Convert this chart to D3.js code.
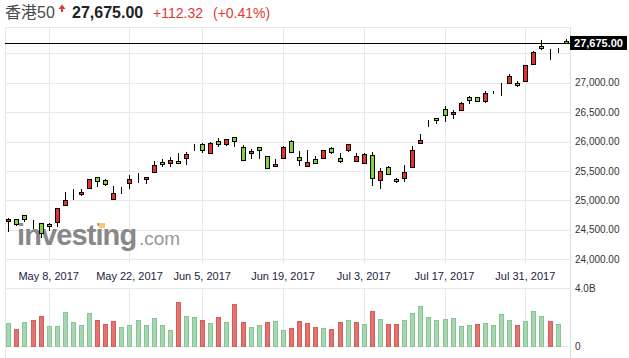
<!DOCTYPE html>
<html><head><meta charset="utf-8">
<script src="https://cdn.jsdelivr.net/npm/d3@7"></script>
<style>body{margin:0;background:#fff}svg{display:block}</style>
</head><body>
<svg id="c" width="629" height="358"></svg>
<script>
const dates = ["2017-04-27","2017-04-28","2017-05-02","2017-05-04","2017-05-05","2017-05-08","2017-05-09","2017-05-10","2017-05-11","2017-05-12","2017-05-15","2017-05-16","2017-05-17","2017-05-18","2017-05-19","2017-05-22","2017-05-23","2017-05-24","2017-05-25","2017-05-26","2017-05-29","2017-05-31","2017-06-01","2017-06-02","2017-06-05","2017-06-06","2017-06-07","2017-06-08","2017-06-09","2017-06-12","2017-06-13","2017-06-14","2017-06-15","2017-06-16","2017-06-19","2017-06-20","2017-06-21","2017-06-22","2017-06-23","2017-06-26","2017-06-27","2017-06-28","2017-06-29","2017-06-30","2017-07-03","2017-07-04","2017-07-05","2017-07-06","2017-07-07","2017-07-10","2017-07-11","2017-07-12","2017-07-13","2017-07-14","2017-07-17","2017-07-18","2017-07-19","2017-07-20","2017-07-21","2017-07-24","2017-07-25","2017-07-26","2017-07-27","2017-07-28","2017-07-31","2017-08-01","2017-08-02","2017-08-03","2017-08-04","2017-08-07"];
const open  = [24645,24679,24747,24662,24611,24594,24638,24917,25097,25109,25206,25393,25342,25019,25160,25291,25386,25359,25488,25648,25641,25675,25716,25902,25953,25801,26004,25953,26072,25902,25801,25902,25750,25580,25716,26004,25733,25580,25699,25716,25885,25716,25851,25665,25631,25767,25342,25563,25359,25376,25573,25970,26321,26395,26548,26463,26536,26752,26752,26694,26837,26932,26990,27000,27024,27313,27629,27522,27550,27703];
const high  = [24701,24684,24761,24665,24615,24621,24876,25148,25189,25189,25372,25405,25359,25245,25233,25432,25461,25406,25665,25699,25733,25806,25818,25959,25981,25998,26055,26049,26078,25942,25869,25907,25755,25699,25919,26021,25835,25852,25750,25856,25902,25801,25957,25801,25801,25818,25546,25580,25376,25597,25924,26128,26366,26400,26604,26536,26677,26769,26757,26854,26864,27000,27153,27029,27300,27539,27725,27578,27584,27737];
const low   = [24458,24565,24628,24514,24356,24475,24543,24905,25007,25075,25194,25223,25240,25012,25109,25199,25301,25284,25483,25573,25573,25638,25607,25845,25801,25798,25902,25925,25913,25678,25709,25709,25543,25563,25712,25813,25580,25576,25636,25712,25784,25631,25817,25661,25627,25250,25199,25440,25291,25308,25568,25965,26252,26293,26337,26378,26530,26638,26680,26660,26803,26779,26986,26922,27020,27310,27556,27391,27500,27670];
const close = [24679,24594,24679,24662,24441,24560,24866,25002,25097,25143,25359,25325,25274,25121,25160,25369,25386,25403,25610,25620,25682,25641,25784,25902,25851,25970,25953,26038,26004,25682,25835,25851,25546,25614,25902,25817,25682,25648,25640,25852,25817,25665,25953,25750,25784,25376,25495,25444,25325,25478,25857,26027,26321,26361,26446,26502,26655,26706,26684,26820,26837,26932,27114,26956,27296,27522,27584,27522,27550,27675];
const volumeB = [1.59,1.17,1.66,1.79,2.07,1.38,1.38,2.34,1.66,1.45,2.28,1.79,1.52,1.72,1.31,1.45,1.79,1.45,1.93,1.45,1.10,3.03,2.07,2.00,1.79,1.59,2.00,1.66,2.90,1.66,1.31,1.45,1.66,1.72,1.10,1.24,1.72,1.59,1.31,1.24,1.17,1.66,1.79,1.66,1.52,2.41,1.86,1.52,1.52,1.79,2.28,2.76,2.00,1.79,1.86,1.93,1.38,1.45,1.52,1.59,1.45,2.21,1.79,1.45,1.72,2.41,2.07,1.72,1.52,null];
const xTickDates = ["2017-05-08","2017-05-22","2017-06-05","2017-06-19","2017-07-03","2017-07-17","2017-07-31"];
const xTickLabels = ["May 8, 2017","May 22, 2017","Jun 5, 2017","Jun 19, 2017","Jul 3, 2017","Jul 17, 2017","Jul 31, 2017"];
const yGridValues = [24000,24500,25000,25500,26000,26500,27000,27500];
const yTickValues = [24000,24500,25000,25500,26000,26500,27000];
const volTickValues = [0,4];
const volTickLabels = ["0","4.0B"];
const lastPrice = 27675.00, change = 112.32, changePct = 0.41;
const title = "香港50";

const svg = d3.select("#c");
const L = 5, R = 570, PT = 27, PB = 263, VT = 288, VB = 346.3;
const x = d3.scalePoint().domain(dates).range([8.3, 565.7]);
const y = d3.scaleLinear().domain([24000, 27000]).range([259.3, 82.7]);
const yv = d3.scaleLinear().domain([0, 4]).range([VB, 288.3]);
const fmt = d3.format(",.2f");
const snap = v => Math.round(v) + 0.5;
const gridC = "#e6e8ee";

// header
const hdr = svg.append("g").attr("font-family","Liberation Sans, Arial, sans-serif");
hdr.append("text").attr("x",5).attr("y",18).attr("font-size",16).attr("fill","#4a4a4a")
  .attr("font-family","Liberation Sans, 'Noto Sans CJK SC', sans-serif").text(title);
hdr.append("path").attr("d","M62,4.5 L58.5,9 L61,9 L61,12 L63,12 L63,9 L65.5,9 Z").attr("fill","#e03a35");
hdr.append("text").attr("x",72).attr("y",18).attr("font-size",16).attr("font-weight","bold").attr("fill","#222").text(fmt(lastPrice));
hdr.append("text").attr("x",153).attr("y",18).attr("font-size",14).attr("fill","#e03a35").text("+" + fmt(change));
hdr.append("text").attr("x",213).attr("y",18).attr("font-size",14).attr("fill","#e03a35").text("(+" + changePct.toFixed(2) + "%)");

// grid
const g = svg.append("g");
g.selectAll("line.hg").data(yGridValues).join("line")
  .attr("x1",L).attr("x2",R).attr("y1",d=>snap(y(d))).attr("y2",d=>snap(y(d)))
  .attr("stroke",gridC);
g.selectAll("line.vg").data(xTickDates).join("line")
  .attr("x1",d=>snap(x(d))).attr("x2",d=>snap(x(d))).attr("y1",PT).attr("y2",PB).attr("stroke",gridC);
g.selectAll("line.vg2").data(xTickDates).join("line")
  .attr("x1",d=>snap(x(d))).attr("x2",d=>snap(x(d))).attr("y1",VT).attr("y2",VB).attr("stroke",gridC);
// borders
g.append("line").attr("x1",L).attr("x2",R).attr("y1",PT+0.5).attr("y2",PT+0.5).attr("stroke",gridC);
g.append("line").attr("x1",L).attr("x2",R).attr("y1",VT+0.5).attr("y2",VT+0.5).attr("stroke",gridC);
g.append("line").attr("x1",L).attr("x2",R).attr("y1",snap(VB)).attr("y2",snap(VB)).attr("stroke",gridC);
g.append("line").attr("x1",L+0.5).attr("x2",L+0.5).attr("y1",PT).attr("y2",358).attr("stroke",gridC);
g.append("line").attr("x1",R+0.5).attr("x2",R+0.5).attr("y1",PT).attr("y2",358).attr("stroke","#d9dfe8");

// watermark
const wm = svg.append("g").attr("font-family","Liberation Sans, Arial, sans-serif");
wm.append("text").attr("x",17).attr("y",245).attr("font-size",29).attr("font-weight","bold")
  .attr("fill","#888").attr("letter-spacing",-0.9).text("investing");
wm.append("text").attr("x",139).attr("y",245).attr("font-size",19).attr("fill","#999").text(".com");
wm.append("rect").attr("x",99).attr("y",223).attr("width",6).attr("height",5).attr("fill","#f6c873");

// x labels
svg.append("g").selectAll("text").data(xTickDates).join("text")
  .attr("x",d=>x(d)).attr("y",280).attr("text-anchor","middle")
  .attr("font-family","Liberation Sans, Arial, sans-serif").attr("font-size",11).attr("fill","#1a2340")
  .text((d,i)=>xTickLabels[i]);

// y labels
svg.append("g").selectAll("text").data(yTickValues).join("text")
  .attr("x",575).attr("y",d=>y(d)).attr("dy","0.35em")
  .attr("font-family","Liberation Sans, Arial, sans-serif").attr("font-size",10).attr("fill","#333")
  .text(d=>fmt(d));
svg.append("g").selectAll("text").data(volTickValues).join("text")
  .attr("x",575).attr("y",d=>yv(d)).attr("dy","0.35em")
  .attr("font-family","Liberation Sans, Arial, sans-serif").attr("font-size",10).attr("fill","#333")
  .text((d,i)=>volTickLabels[i]);

// data rows
const rows = dates.map((d,i)=>({date:d,o:open[i],h:high[i],l:low[i],c:close[i],v:volumeB[i],
  up: i===0 ? true : close[i] >= close[i-1]}));

// volume
svg.append("g").selectAll("rect").data(rows.filter(r=>r.v!=null)).join("rect")
  .attr("x",d=>Math.round(x(d.date))-1.5).attr("width",4)
  .attr("y",d=>snap(yv(d.v))).attr("height",d=>snap(VB)-snap(yv(d.v)))
  .attr("fill",d=>d.up?"#a7d7b1":"#e3736f").attr("stroke",d=>d.up?"#86c594":"#d75f5b");

// candles
const cg = svg.append("g");
cg.selectAll("line").data(rows).join("line")
  .attr("x1",d=>snap(x(d.date))).attr("x2",d=>snap(x(d.date)))
  .attr("y1",d=>Math.round(y(d.h))).attr("y2",d=>Math.round(y(d.l)))
  .attr("stroke","#000");
cg.selectAll("rect").data(rows).join("rect")
  .attr("x",d=>Math.round(x(d.date))-1.5).attr("width",4)
  .attr("y",d=>snap(y(Math.max(d.o,d.c))))
  .attr("height",d=>Math.max(0, snap(y(Math.min(d.o,d.c))) - snap(y(Math.max(d.o,d.c)))))
  .attr("fill",d=>d.c>d.o?"#e8302b":(d.c<d.o?"#7ed63c":"#000"))
  .attr("stroke","#000");

// last price line + label
svg.append("line").attr("x1",L).attr("x2",R).attr("y1",snap(y(lastPrice))).attr("y2",snap(y(lastPrice))).attr("stroke","#000");
svg.append("rect").attr("x",570).attr("y",y(lastPrice)-7).attr("width",57).attr("height",14).attr("fill","#000");
svg.append("text").attr("x",598.5).attr("y",y(lastPrice)).attr("dy","0.35em").attr("text-anchor","middle")
  .attr("font-family","Liberation Sans, Arial, sans-serif").attr("font-size",11).attr("font-weight","bold")
  .attr("fill","#fff").text(fmt(lastPrice));
</script>
</body></html>
